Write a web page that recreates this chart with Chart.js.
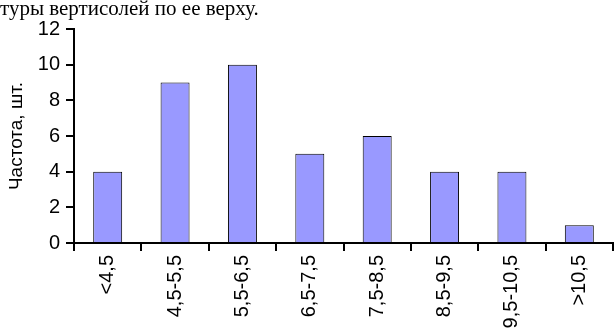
<!DOCTYPE html>
<html>
<head>
<meta charset="utf-8">
<script src="https://cdn.jsdelivr.net/npm/chart.js@4/dist/chart.umd.min.js"></script>
<style>
    body { margin: 0; background: #fff; }
    #wrap { position: relative; width: 615px; height: 329px; overflow: hidden; }
    #caption {
        position: absolute; left: 0; top: -2px;
        font: 21px "Liberation Serif", "Times New Roman", serif;
        line-height: 21px; color: #000; white-space: nowrap;
    }
    canvas { position: absolute; left: 0; top: 0; }
</style>
</head>
<body>
<div id="wrap">
    <canvas id="chart" width="615" height="329"></canvas>
    <div id="caption">туры вертисолей по ее верху.</div>
</div>
<script>
    var categories = ['<4,5', '4,5-5,5', '5,5-6,5', '6,5-7,5', '7,5-8,5', '8,5-9,5', '9,5-10,5', '>10,5'];
    var counts = [4, 9, 10, 5, 6, 4, 4, 1];
    var yTitle = 'Частота, шт.';

    var fontFamily = '"Liberation Sans", Arial, sans-serif';
    Chart.defaults.color = '#000';
    Chart.defaults.font.family = fontFamily;

    var ctx = document.getElementById('chart').getContext('2d');
    var chart = new Chart(ctx, {
        type: 'bar',
        data: {
            labels: categories,
            datasets: [{
                data: counts,
                backgroundColor: '#9999FF',
                borderColor: '#000',
                borderWidth: 1,
                categoryPercentage: 1,
                barPercentage: 0.43
            }]
        },
        options: {
            responsive: false,
            animation: false,
            layout: { padding: { top: 29, right: 2, left: 0, bottom: 0 } },
            plugins: {
                legend: { display: false },
                tooltip: { enabled: false }
            },
            scales: {
                x: {
                    afterFit: function(scale) { scale.height = 86; },
                    grid: {
                        offset: true,
                        drawOnChartArea: false,
                        drawTicks: true,
                        tickLength: 8,
                        color: '#000',
                        lineWidth: 2
                    },
                    border: { color: '#000', width: 2 },
                    ticks: {
                        minRotation: 90,
                        maxRotation: 90,
                        padding: 4,
                        font: { size: 20 }
                    }
                },
                y: {
                    min: 0,
                    max: 12,
                    afterFit: function(scale) { scale.width = 74; },
                    grid: {
                        drawOnChartArea: false,
                        drawTicks: true,
                        tickLength: 8,
                        color: '#000',
                        lineWidth: 2
                    },
                    border: { color: '#000', width: 2 },
                    ticks: {
                        stepSize: 2,
                        padding: 6,
                        font: { size: 20 }
                    },
                    title: {
                        display: true,
                        text: yTitle,
                        font: { size: 19 },
                        padding: { top: 5, bottom: 8 }
                    }
                }
            }
        }
    });
</script>
</body>
</html>
